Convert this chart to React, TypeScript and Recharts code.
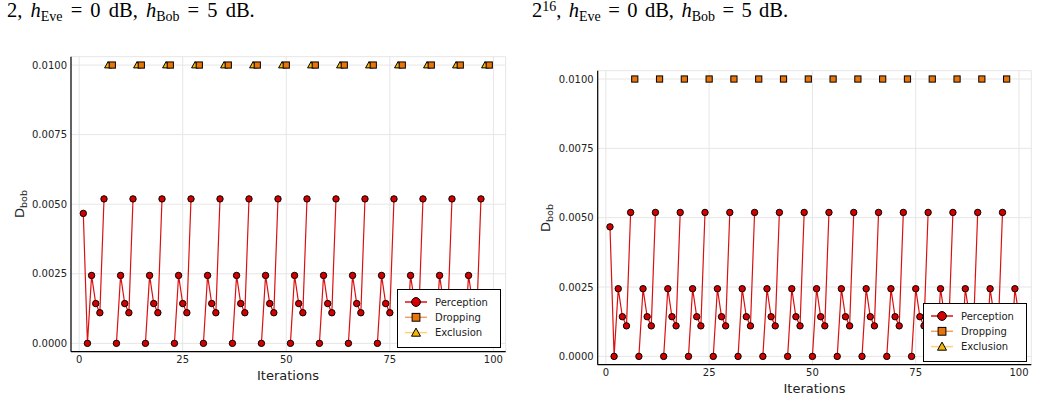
import React from "react";
import { LineChart, Line, XAxis, YAxis, CartesianGrid } from "recharts";

const iterations = [
  1, 2, 3, 4, 5, 6, 7, 8, 9, 10, 11, 12, 13, 14, 15, 16, 17, 18, 19, 20,
  21, 22, 23, 24, 25, 26, 27, 28, 29, 30, 31, 32, 33, 34, 35, 36, 37, 38, 39, 40,
  41, 42, 43, 44, 45, 46, 47, 48, 49, 50, 51, 52, 53, 54, 55, 56, 57, 58, 59, 60,
  61, 62, 63, 64, 65, 66, 67, 68, 69, 70, 71, 72, 73, 74, 75, 76, 77, 78, 79, 80,
  81, 82, 83, 84, 85, 86, 87, 88, 89, 90, 91, 92, 93, 94, 95, 96, 97, 98, 99, 100,
];

const xTicks = [0, 25, 50, 75, 100];
const yTicks = [0, 0.0025, 0.005, 0.0075, 0.01];
const seriesNames = ["Perception", "Dropping", "Exclusion"];

// Left panel (period of 7 iterations)
const leftPerception = [
  0.00467,
  0, 0.00244, 0.00143, 0.0011, 0.00519, null, null,
  0, 0.00244, 0.00143, 0.0011, 0.00519, null, null,
  0, 0.00244, 0.00143, 0.0011, 0.00519, null, null,
  0, 0.00244, 0.00143, 0.0011, 0.00519, null, null,
  0, 0.00244, 0.00143, 0.0011, 0.00519, null, null,
  0, 0.00244, 0.00143, 0.0011, 0.00519, null, null,
  0, 0.00244, 0.00143, 0.0011, 0.00519, null, null,
  0, 0.00244, 0.00143, 0.0011, 0.00519, null, null,
  0, 0.00244, 0.00143, 0.0011, 0.00519, null, null,
  0, 0.00244, 0.00143, 0.0011, 0.00519, null, null,
  0, 0.00244, 0.00143, 0.0011, 0.00519, null, null,
  0, 0.00244, 0.00143, 0.0011, 0.00519, null, null,
  0, 0.00244, 0.00143, 0.0011, 0.00519, null, null,
  0, 0.00244, 0.00143, 0.0011, 0.00519, null, null,
  0,
];
const leftExclusion = [
  null,
  null, null, null, null, null, 0.01, null,
  null, null, null, null, null, 0.01, null,
  null, null, null, null, null, 0.01, null,
  null, null, null, null, null, 0.01, null,
  null, null, null, null, null, 0.01, null,
  null, null, null, null, null, 0.01, null,
  null, null, null, null, null, 0.01, null,
  null, null, null, null, null, 0.01, null,
  null, null, null, null, null, 0.01, null,
  null, null, null, null, null, 0.01, null,
  null, null, null, null, null, 0.01, null,
  null, null, null, null, null, 0.01, null,
  null, null, null, null, null, 0.01, null,
  null, null, null, null, null, 0.01, null,
  null,
];
const leftDropping = [
  null,
  null, null, null, null, null, null, 0.01,
  null, null, null, null, null, null, 0.01,
  null, null, null, null, null, null, 0.01,
  null, null, null, null, null, null, 0.01,
  null, null, null, null, null, null, 0.01,
  null, null, null, null, null, null, 0.01,
  null, null, null, null, null, null, 0.01,
  null, null, null, null, null, null, 0.01,
  null, null, null, null, null, null, 0.01,
  null, null, null, null, null, null, 0.01,
  null, null, null, null, null, null, 0.01,
  null, null, null, null, null, null, 0.01,
  null, null, null, null, null, null, 0.01,
  null, null, null, null, null, null, 0.01,
  null,
];

// Right panel (period of 6 iterations)
const rightPerception = [
  0.00467,
  0, 0.00244, 0.00143, 0.0011, 0.00519, null,
  0, 0.00244, 0.00143, 0.0011, 0.00519, null,
  0, 0.00244, 0.00143, 0.0011, 0.00519, null,
  0, 0.00244, 0.00143, 0.0011, 0.00519, null,
  0, 0.00244, 0.00143, 0.0011, 0.00519, null,
  0, 0.00244, 0.00143, 0.0011, 0.00519, null,
  0, 0.00244, 0.00143, 0.0011, 0.00519, null,
  0, 0.00244, 0.00143, 0.0011, 0.00519, null,
  0, 0.00244, 0.00143, 0.0011, 0.00519, null,
  0, 0.00244, 0.00143, 0.0011, 0.00519, null,
  0, 0.00244, 0.00143, 0.0011, 0.00519, null,
  0, 0.00244, 0.00143, 0.0011, 0.00519, null,
  0, 0.00244, 0.00143, 0.0011, 0.00519, null,
  0, 0.00244, 0.00143, 0.0011, 0.00519, null,
  0, 0.00244, 0.00143, 0.0011, 0.00519, null,
  0, 0.00244, 0.00143, 0.0011, 0.00519, null,
  0, 0.00244, 0.00143,
];
const rightDropping = [
  null,
  null, null, null, null, null, 0.01,
  null, null, null, null, null, 0.01,
  null, null, null, null, null, 0.01,
  null, null, null, null, null, 0.01,
  null, null, null, null, null, 0.01,
  null, null, null, null, null, 0.01,
  null, null, null, null, null, 0.01,
  null, null, null, null, null, 0.01,
  null, null, null, null, null, 0.01,
  null, null, null, null, null, 0.01,
  null, null, null, null, null, 0.01,
  null, null, null, null, null, 0.01,
  null, null, null, null, null, 0.01,
  null, null, null, null, null, 0.01,
  null, null, null, null, null, 0.01,
  null, null, null, null, null, 0.01,
  null, null, null,
];
const rightExclusion: (number | null)[] = [];

const FONT = "'DejaVu Sans', sans-serif";
const RED = "#d40000";
const ORANGE = "#e8740a";
const GOLD = "#f5b60a";
const LINE_RED = "#dc1010";
const LINE_ORANGE = "#efa060";
const LINE_GOLD = "#ffd27a";

type Row = { it: number; p: number | null; d: number | null; e: number | null };

const buildRows = (p: (number | null)[], d: (number | null)[], e: (number | null)[]): Row[] =>
  iterations.map((it, i) => ({
    it,
    p: p[i] ?? null,
    d: d[i] ?? null,
    e: e[i] ?? null,
  }));

const leftRows = buildRows(leftPerception, leftDropping, leftExclusion);
const rightRows = buildRows(rightPerception, rightDropping, rightExclusion);

const Marker = ({ shape, cx, cy, s }: { shape: string; cx: number; cy: number; s: number }) => {
  if (shape === "circle")
    return <circle cx={cx} cy={cy} r={s} fill={RED} stroke="#000" strokeWidth={1} />;
  if (shape === "square")
    return (
      <rect x={cx - s} y={cy - s} width={2 * s} height={2 * s} fill={ORANGE} stroke="#000" strokeWidth={1} />
    );
  const h = s * 1.15;
  return (
    <polygon
      points={`${cx},${cy - h} ${cx + h},${cy + h * 0.8} ${cx - h},${cy + h * 0.8}`}
      fill={GOLD}
      stroke="#000"
      strokeWidth={1}
    />
  );
};

const makeDot = (shape: string) => (props: any) => {
  const { cx, cy, index, value } = props;
  const key = `${shape}-${index}`;
  if (cx == null || cy == null || value == null || (Array.isArray(value) && value[1] == null)) return <g key={key} />;
  return (
    <g key={key}>
      <Marker shape={shape} cx={cx} cy={cy} s={shape === "circle" ? 3.2 : 3.1} />
    </g>
  );
};

const legendItems = [
  { name: seriesNames[0], line: LINE_RED, shape: "circle" },
  { name: seriesNames[1], line: LINE_ORANGE, shape: "square" },
  { name: seriesNames[2], line: LINE_GOLD, shape: "triangle" },
];

const LegendBox = ({ left, top }: { left: number; top: number }) => (
  <svg style={{ position: "absolute", left, top }} width={104} height={59}>
    <rect x={0.5} y={0.5} width={103} height={58} fill="#fff" stroke="#000" strokeWidth={1} />
    {legendItems.map((it, i) => {
      const y = 13 + i * 15.3;
      return (
        <g key={it.name}>
          <line x1={8} x2={30} y1={y} y2={y} stroke={it.line} strokeWidth={1.5} />
          <Marker shape={it.shape} cx={19} cy={y} s={it.shape === "circle" ? 4.4 : 3.9} />
          <text x={38} y={y + 3.6} fontSize={10} fontFamily={FONT} fill="#222">
            {it.name}
          </text>
        </g>
      );
    })}
  </svg>
);

const Panel = ({
  rows,
  left,
  width,
  margin,
  showExclusion,
}: {
  rows: Row[];
  left: number;
  width: number;
  margin: { top: number; right: number; bottom: number; left: number };
  showExclusion: boolean;
}) => (
  <div style={{ position: "absolute", left, top: 0 }}>
    <LineChart width={width} height={400} data={rows} margin={margin}>
      <CartesianGrid stroke="#e6e6e6" strokeWidth={1} />
      <XAxis
        dataKey="it"
        type="number"
        domain={[-1.97, 102.97]}
        ticks={xTicks}
        allowDataOverflow
        height={30}
        tickSize={0}
        tickMargin={4}
        axisLine={{ stroke: "#000", strokeWidth: 1.2 }}
        tick={{ fontSize: 10, fontFamily: FONT, fill: "#222" }}
      />
      <YAxis
        type="number"
        domain={[-0.0003, 0.0103]}
        ticks={yTicks}
        allowDataOverflow
        width={50}
        tickSize={0}
        tickMargin={4}
        tickFormatter={(v: number) => v.toFixed(4)}
        axisLine={{ stroke: "#000", strokeWidth: 1.2 }}
        tick={{ fontSize: 10, fontFamily: FONT, fill: "#222" }}
      />
      <Line
        dataKey="p"
        name={seriesNames[0]}
        type="linear"
        stroke={LINE_RED}
        strokeWidth={1.2}
        dot={makeDot("circle")}
        activeDot={false}
        isAnimationActive={false}
      />
      {showExclusion && (
        <Line
          dataKey="e"
          name={seriesNames[2]}
          type="linear"
          stroke={LINE_GOLD}
          strokeWidth={1.2}
          dot={makeDot("triangle")}
          activeDot={false}
          isAnimationActive={false}
        />
      )}
      <Line
        dataKey="d"
        name={seriesNames[1]}
        type="linear"
        stroke={LINE_ORANGE}
        strokeWidth={1.2}
        dot={makeDot("square")}
        activeDot={false}
        isAnimationActive={false}
      />
    </LineChart>
  </div>
);

const capStyle: React.CSSProperties = {
  position: "absolute",
  top: 0,
  fontFamily: "'Liberation Serif', serif",
  fontSize: 20.5,
  lineHeight: "20px",
  color: "#000",
  whiteSpace: "nowrap",
  wordSpacing: 3,
};
const subStyle: React.CSSProperties = { fontSize: 14, position: "relative", top: 4 };
const supStyle: React.CSSProperties = { fontSize: 14, position: "relative", top: -6 };

export default function App() {
  return (
    <div style={{ position: "absolute", left: 0, top: 0, width: 1039, height: 400, background: "#fff", overflow: "hidden" }}>
      <div style={{ ...capStyle, left: 7 }}>
        2, <i>h</i>
        <span style={subStyle}>Eve</span> = 0 dB, <i>h</i>
        <span style={subStyle}>Bob</span> = 5 dB.
      </div>
      <div style={{ ...capStyle, left: 532, wordSpacing: 2.3 }}>
        2<span style={supStyle}>16</span>, <i>h</i>
        <span style={subStyle}>Eve</span> = 0 dB, <i>h</i>
        <span style={subStyle}>Bob</span> = 5 dB.
      </div>

      <Panel
        rows={leftRows}
        left={0}
        width={520}
        margin={{ top: 56.7, right: 14.3, bottom: 18.3, left: 21 }}
        showExclusion={true}
      />
      <Panel
        rows={rightRows}
        left={520}
        width={519}
        margin={{ top: 70.7, right: 7.7, bottom: 5.3, left: 27.7 }}
        showExclusion={false}
      />

      <svg style={{ position: "absolute", left: 0, top: 0, pointerEvents: "none" }} width={1039} height={400}>
        <text transform="translate(24,204) rotate(-90)" textAnchor="middle" fontSize={13} fontFamily={FONT} fill="#222">
          D<tspan fontSize={9.5} dy={3}>bob</tspan>
        </text>
        <text transform="translate(549.5,218) rotate(-90)" textAnchor="middle" fontSize={13} fontFamily={FONT} fill="#222">
          D<tspan fontSize={9.5} dy={3}>bob</tspan>
        </text>
        <text x={288} y={379.5} textAnchor="middle" fontSize={13} fontFamily={FONT} fill="#222">
          Iterations
        </text>
        <text x={814.5} y={392.5} textAnchor="middle" fontSize={13} fontFamily={FONT} fill="#222">
          Iterations
        </text>
      </svg>

      <LegendBox left={396.5} top={288.5} />
      <LegendBox left={923} top={302.5} />
    </div>
  );
}
